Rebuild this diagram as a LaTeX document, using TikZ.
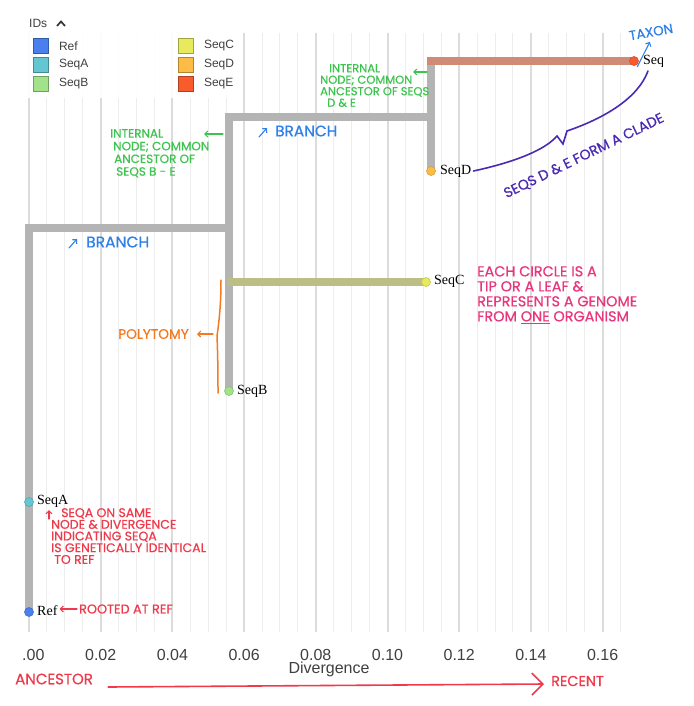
\documentclass[tikz,border=0pt]{standalone}
\usepackage{fontspec}
\setmainfont{Liberation Serif}
\setsansfont{Liberation Sans}
\newfontfamily\handfont[FakeBold=0.6]{Poppins}
\usepackage{xcolor}
\usetikzlibrary{arrows.meta}

\definecolor{treegray}{HTML}{B4B4B4}
\definecolor{gridlight}{HTML}{EDEDED}
\definecolor{griddark}{HTML}{DCDCDC}
\definecolor{edgeC}{HTML}{BDBD86}
\definecolor{edgeE}{HTML}{CF8B76}
\definecolor{colRef}{HTML}{4A7FEE}
\definecolor{colA}{HTML}{64C6D0}
\definecolor{colB}{HTML}{A2E28A}
\definecolor{colC}{HTML}{E6EA5C}
\definecolor{colD}{HTML}{FCBC45}
\definecolor{colE}{HTML}{F95C2C}
\definecolor{handgreen}{HTML}{3DC44F}
\definecolor{handblue}{HTML}{2F80E8}
\definecolor{handpurple}{HTML}{4A2AB4}
\definecolor{handpink}{HTML}{E8367C}
\definecolor{handorange}{HTML}{F57A1F}
\definecolor{handred}{HTML}{EF3A4C}

\begin{document}
\begin{tikzpicture}[
  x=1pt, y=-1pt,
  branch/.style={
    draw=treegray, line width=8pt
  },
  tipdot/.style={
    circle, fill=#1, draw=#1!85!black, line width=0.6pt,
    minimum size=9pt, inner sep=0pt
  },
  tiplabel/.style={
    anchor=west, inner sep=0pt, font=\fontsize{14}{14}\selectfont
  },
  swatch/.style={
    draw=#1!70!black, fill=#1, line width=1.2pt,
    minimum size=14.5pt, inner sep=0pt
  },
  keytext/.style={
    anchor=west, inner sep=0pt, text=black!75,
    font=\sffamily\fontsize{12}{12}\selectfont
  },
  axlabel/.style={
    inner sep=0pt, text=black!75, font=\sffamily\fontsize{16}{16}\selectfont
  },
  note/.style={
    inner sep=0pt, align=left, text=#1,
    font=\handfont\fontsize{11.5}{11.5}\selectfont
  },
  noteArr/.style={
    -{Straight Barb[length=3pt,width=6pt]}, draw=#1, line width=1.1pt, line cap=round
  },
  gridminor/.style={draw=gridlight, line width=1pt},
  gridmajor/.style={draw=griddark, line width=2pt}
]
\clip (0,0) rectangle (693,706);
\fill[white] (0,0) rectangle (693,706);

% Grid and axis
\foreach \i in {0,...,33}
  \draw[gridminor] ({29+\i*17.925},33) -- ({29+\i*17.925},632);
\draw[gridmajor] (29,33) -- (29,632);
\foreach \i/\lab in {1/0.02, 2/0.04, 3/0.06, 4/0.08, 5/0.10, 6/0.12, 7/0.14, 8/0.16} {
  \draw[gridmajor] ({29+\i*71.7},33) -- ({29+\i*71.7},632);
  \node[axlabel] (tick\i) at ({29+\i*71.7},655) {\lab};
}
\node[axlabel, anchor=west] (tick0) at (22,655) {.00};
\node[axlabel] (axisTitle) at (329,669) {Divergence};

% Legend
\fill[white, opacity=0.9] (14,6) rectangle (240,98);
\node[keytext] (idsTitle) at (29,23) {IDs};
\draw[line width=1.7pt, black!80] (57,26) -- (61,21.5) -- (65,26);
\node[swatch=colRef] (keyRef) at (41,46) {};
\node[keytext] at ([xshift=10pt]keyRef.east) {Ref};
\node[swatch=colA] (keyA) at (41,65) {};
\node[keytext] at ([xshift=10pt]keyA.east) {SeqA};
\node[swatch=colB] (keyB) at (41,84) {};
\node[keytext] at ([xshift=10pt]keyB.east) {SeqB};
\node[swatch=colC] (keyC) at (186,46) {};
\node[keytext] at ([xshift=10pt]keyC.east) {SeqC};
\node[swatch=colD] (keyD) at (186,65) {};
\node[keytext] at ([xshift=10pt]keyD.east) {SeqD};
\node[swatch=colE] (keyE) at (186,84) {};
\node[keytext] at ([xshift=10pt]keyE.east) {SeqE};

% Tree
\coordinate (ref) at (29,612);
\coordinate (seqA) at (29,502);
\coordinate (seqB) at (229,391);
\coordinate (seqC) at (426,282);
\coordinate (seqD) at (431,171);
\coordinate (seqE) at (634,61);
\coordinate (nodeBE) at (229,228);
\coordinate (nodeDE) at (431,117);
\coordinate (cornerDE) at (seqD |- seqE);

\draw[branch] (ref) |- (nodeBE);
\draw[branch] (seqB) |- (nodeDE);
\draw[branch] (seqD) -- ([yshift=4pt]cornerDE);
\draw[branch, draw=edgeC] ([xshift=-2pt]seqB |- seqC) -- (seqC);
\draw[branch, draw=edgeE] ([xshift=-4pt]cornerDE) -- (seqE);

% Tips
\node[tipdot=colRef] (refDot) at (ref) {};
\node[tipdot=colA] (seqADot) at (seqA) {};
\node[tipdot=colB] (seqBDot) at (seqB) {};
\node[tipdot=colC] (seqCDot) at (seqC) {};
\node[tipdot=colD] (seqDDot) at (seqD) {};
\node[tipdot=colE] (seqEDot) at (seqE) {};
\node[tiplabel] (refLabel) at ([xshift=8pt,yshift=1pt]refDot.center) {Ref};
\node[tiplabel] (seqALabel) at ([xshift=8pt,yshift=1pt]seqADot.center) {SeqA};
\node[tiplabel] (seqBLabel) at ([xshift=8pt]seqBDot.center) {SeqB};
\node[tiplabel] (seqCLabel) at ([xshift=8pt,yshift=1pt]seqCDot.center) {SeqC};
\node[tiplabel] (seqDLabel) at ([xshift=9pt]seqDDot.center) {SeqD};
\begin{scope}
  \clip (0,0) rectangle (662,706);
  \node[tiplabel] (seqELabel) at ([xshift=9pt]seqEDot.center) {SeqE};
\end{scope}

% Notes: internal nodes
\node[note=handgreen, anchor=north west] (noteDE) at (320,64)
  {\hspace{9pt}INTERNAL\\NODE; COMMON\\ANCESTOR OF SEQS\\\hspace{7pt}D \& E};
\coordinate (arrDE) at (427,72);
\draw[noteArr=handgreen] (arrDE) -- ++(-14,0);
\node[note=handgreen, anchor=north west, font=\handfont\fontsize{12}{12.7}\selectfont]
  (noteBE) at (110,129) {INTERNAL\\\hspace{3pt}NODE; COMMON\\\hspace{4pt}ANCESTOR OF\\\hspace{6pt}SEQS B - E};
\coordinate (arrBE) at (223,134);
\draw[noteArr=handgreen] (arrBE) -- ++(-19,0);

% Notes: branches and taxon
\node[note=handblue, anchor=west, font=\handfont\fontsize{15.3}{15.3}\selectfont]
  (branchUp) at (275,131) {BRANCH};
\draw[noteArr=handblue] ([xshift=-16pt,yshift=-6pt]branchUp.west) -- ++(8,-9);
\node[note=handblue, anchor=west, font=\handfont\fontsize{15.5}{15.5}\selectfont]
  (branchLow) at (86,242) {BRANCH};
\draw[noteArr=handblue] ([xshift=-17pt,yshift=-6pt]branchLow.west) -- ++(8,-9);
\node[note=handblue, rotate=10, font=\handfont\fontsize{13.3}{13.3}\selectfont]
  (taxonNote) at (651,32) {TAXON};
\draw[noteArr=handblue] ([yshift=-9pt]seqEDot.north east) -- ([xshift=-2pt,yshift=-5pt]taxonNote.south);

% Notes: clade
\draw[handpurple, line width=1.6pt, line cap=round]
  ([xshift=2pt]seqDLabel.east) .. controls (515,162) and (545,150) .. (557,136)
  -- (563,144) -- (567,131) .. controls (605,118) and (638,98) .. ([xshift=14pt,yshift=-10pt]seqEDot.center);
\node[note=handpurple, rotate=26, font=\handfont\fontsize{14}{14}\selectfont]
  (cladeNote) at (584,156) {SEQS D \& E FORM A CLADE};

% Notes: tips
\node[note=handpink, anchor=north west, font=\handfont\fontsize{14.4}{15}\selectfont]
  (tipNote) at (477,266) {EACH CIRCLE IS A\\TIP OR A LEAF \&\\REPRESENTS A GENOME\\FROM \underline{ONE} ORGANISM};

% Notes: polytomy
\draw[handorange, line width=1.5pt, line cap=round]
  (221,280) .. controls (221,305) and (219,322) .. (217,336)
  .. controls (218,360) and (218,380) .. (218,393);
\node[note=handorange, anchor=east, font=\handfont\fontsize{13.7}{13.7}\selectfont]
  (polyNote) at (189,334) {POLYTOMY};
\draw[noteArr=handorange] ([xshift=-4pt]217,334) -- ([xshift=8pt]polyNote.east);

% Notes: Ref and SeqA
\node[note=handred, anchor=north west, font=\handfont\fontsize{12.5}{11.7}\selectfont]
  (seqANote) at (51,508) {\hspace{10pt}SEQA ON SAME\\NODE \& DIVERGENCE\\INDICATING SEQA\\IS GENETICALLY IDENTICAL\\\hspace{3pt}TO REF};
\draw[noteArr=handred] ([xshift=-2pt,yshift=-11pt]seqANote.north west) -- ++(0,-9);
\node[note=handred, anchor=west, font=\handfont\fontsize{12.8}{12.8}\selectfont]
  (rootNote) at (79,609) {ROOTED AT REF};
\draw[noteArr=handred] ([xshift=-2pt]rootNote.west) -- ([xshift=2pt]refLabel.east |- rootNote.west);

% Time direction
\node[note=handred, anchor=west, font=\handfont\fontsize{15}{15}\selectfont]
  (ancestorNote) at (15,679) {ANCESTOR};
\node[note=handred, anchor=west, font=\handfont\fontsize{14.4}{14.4}\selectfont]
  (recentNote) at (551,681) {RECENT};
\draw[-{Straight Barb[length=11pt,width=22pt]}, draw=handred, line width=1.6pt, line cap=round]
  ([xshift=15pt,yshift=-8pt]ancestorNote.east) -- ([xshift=-7pt,yshift=-3pt]recentNote.west);

\end{tikzpicture}
\end{document}
